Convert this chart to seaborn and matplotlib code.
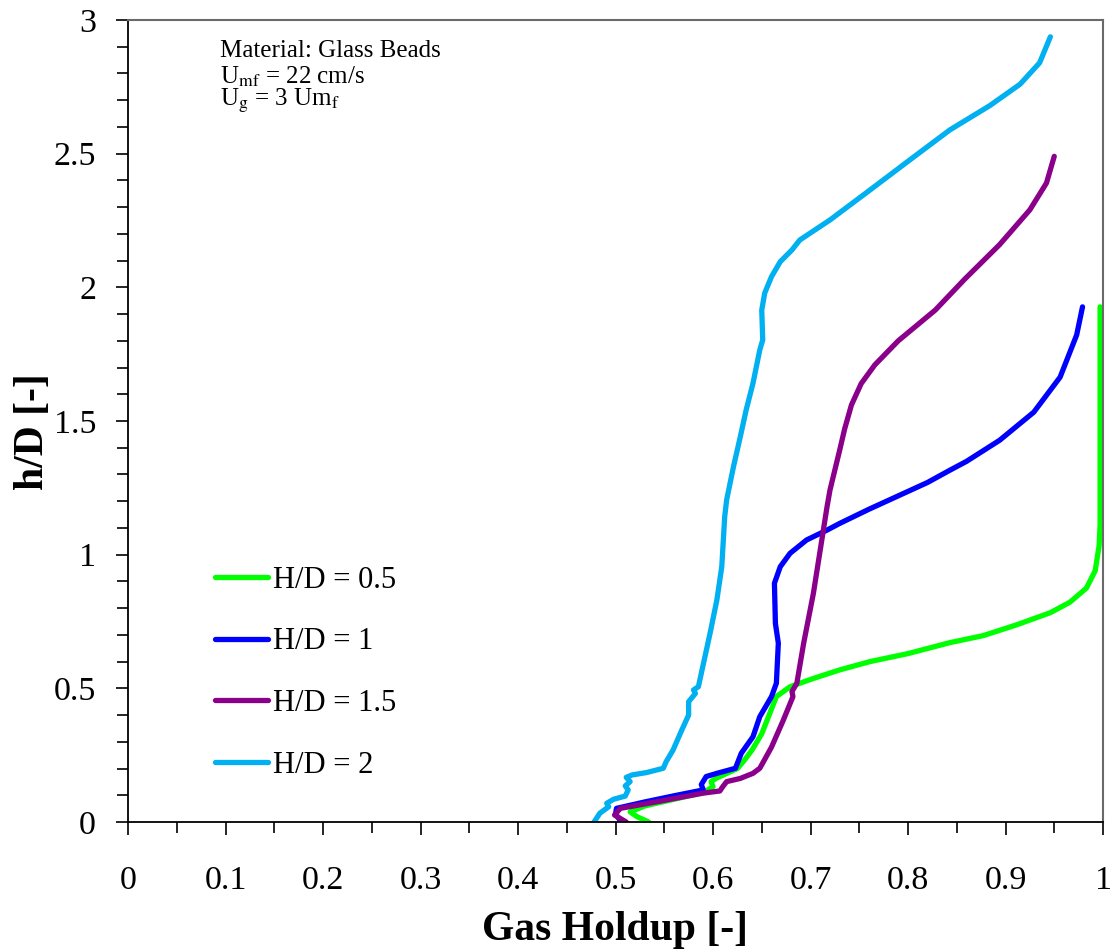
import numpy as np
import pandas as pd
import seaborn as sns
import matplotlib.pyplot as plt
from matplotlib.ticker import MultipleLocator

# gas holdup (x) and h/D (y), one pair per curve
hd05_x = [0.534, 0.522, 0.515, 0.530, 0.560, 0.590, 0.600, 0.598, 0.604, 0.625, 0.632,
          0.640, 0.650, 0.665, 0.679, 0.703, 0.730, 0.761, 0.800, 0.843, 0.877, 0.911,
          0.946, 0.966, 0.983, 0.992, 0.996, 0.997, 0.997, 0.997]
hd05_y = [0.0, 0.020, 0.038, 0.060, 0.085, 0.110, 0.132, 0.151, 0.165, 0.200, 0.230,
          0.269, 0.330, 0.469, 0.506, 0.537, 0.569, 0.600, 0.630, 0.671, 0.697, 0.737,
          0.783, 0.822, 0.875, 0.940, 1.033, 1.112, 1.322, 1.927]

hd1_x = [0.506, 0.500, 0.501, 0.530, 0.560, 0.590, 0.588, 0.593, 0.604, 0.623, 0.629,
         0.641, 0.648, 0.660, 0.665, 0.667, 0.664, 0.663, 0.669, 0.679, 0.696, 0.717,
         0.730, 0.760, 0.790, 0.820, 0.843, 0.860, 0.894, 0.929, 0.956, 0.973, 0.979]
hd1_y = [0.0, 0.030, 0.051, 0.075, 0.098, 0.120, 0.140, 0.170, 0.182, 0.201, 0.257,
         0.319, 0.394, 0.469, 0.519, 0.669, 0.743, 0.893, 0.955, 1.005, 1.055, 1.092,
         1.117, 1.170, 1.220, 1.270, 1.316, 1.349, 1.428, 1.533, 1.664, 1.822, 1.927]

hd15_x = [0.511, 0.499, 0.505, 0.546, 0.590, 0.607, 0.610, 0.614, 0.628, 0.641, 0.648,
          0.660, 0.672, 0.682, 0.681, 0.686, 0.693, 0.703, 0.710, 0.717, 0.720, 0.730,
          0.735, 0.742, 0.752, 0.766, 0.790, 0.828, 0.858, 0.894, 0.925, 0.942, 0.950]
hd15_y = [0.0, 0.026, 0.051, 0.078, 0.108, 0.116, 0.132, 0.151, 0.163, 0.182, 0.201,
          0.280, 0.380, 0.469, 0.488, 0.519, 0.669, 0.856, 1.018, 1.180, 1.242, 1.392,
          1.470, 1.560, 1.640, 1.710, 1.800, 1.915, 2.030, 2.160, 2.290, 2.390, 2.490]

hd2_x = [0.478, 0.484, 0.493, 0.491, 0.498, 0.510, 0.513, 0.510, 0.515, 0.511, 0.517,
         0.532, 0.549, 0.552, 0.559, 0.568, 0.575, 0.575, 0.582, 0.580, 0.585, 0.597,
         0.604, 0.609, 0.612, 0.614, 0.621, 0.628, 0.634, 0.641, 0.648, 0.651, 0.650,
         0.653, 0.660, 0.669, 0.681, 0.689, 0.720, 0.761, 0.802, 0.843, 0.884, 0.915,
         0.935, 0.946]
hd2_y = [0.0, 0.033, 0.057, 0.070, 0.085, 0.097, 0.120, 0.135, 0.151, 0.167, 0.176,
         0.185, 0.201, 0.226, 0.269, 0.344, 0.400, 0.450, 0.481, 0.494, 0.506, 0.706,
         0.831, 0.955, 1.142, 1.205, 1.329, 1.441, 1.541, 1.641, 1.766, 1.803, 1.915,
         1.978, 2.040, 2.096, 2.140, 2.177, 2.252, 2.364, 2.477, 2.589, 2.680, 2.760,
         2.840, 2.937]

labels = ['H/D = 0.5', 'H/D = 1', 'H/D = 1.5', 'H/D = 2']
colors = ['#00ff00', '#0000ff', '#8b008b', '#00b0f0']

x_ticks = [0, 0.1, 0.2, 0.3, 0.4, 0.5, 0.6, 0.7, 0.8, 0.9, 1]
x_ticklabels = ['0', '0.1', '0.2', '0.3', '0.4', '0.5', '0.6', '0.7', '0.8', '0.9', '1']
y_ticks = [0, 0.5, 1, 1.5, 2, 2.5, 3]
y_ticklabels = ['0', '0.5', '1', '1.5', '2', '2.5', '3']

frames = []
for lab, xs, ys in zip(labels, [hd05_x, hd1_x, hd15_x, hd2_x], [hd05_y, hd1_y, hd15_y, hd2_y]):
    frames.append(pd.DataFrame({'holdup': xs, 'hd': ys, 'case': lab}))
df = pd.concat(frames, ignore_index=True)

sns.set_style('ticks')
plt.rcParams['font.family'] = ['Liberation Serif', 'DejaVu Serif']
plt.rcParams['mathtext.fontset'] = 'stix'
plt.rcParams['text.color'] = 'black'
plt.rcParams['axes.labelcolor'] = 'black'
plt.rcParams['xtick.color'] = 'black'
plt.rcParams['ytick.color'] = 'black'

fig, ax = plt.subplots(figsize=(11.12, 9.51), dpi=100)
fig.subplots_adjust(left=128/1112, right=1103/1112, top=1-20/951, bottom=1-822/951)

sns.lineplot(data=df, x='holdup', y='hd', hue='case', hue_order=labels,
             palette=colors, sort=False, estimator=None, lw=3.8, ax=ax)

ax.set_xlim(0, 1)
ax.set_ylim(0, 3)
ax.set_xticks(x_ticks)
ax.set_xticklabels(x_ticklabels)
ax.set_yticks(y_ticks)
ax.set_yticklabels(y_ticklabels)
ax.xaxis.set_minor_locator(MultipleLocator(0.05))
ax.yaxis.set_minor_locator(MultipleLocator(0.1))
ax.tick_params(which='both', direction='out', color='black', width=1.2, labelsize=24.5)
ax.tick_params(which='major', length=9)
ax.tick_params(which='minor', length=8)
ax.tick_params(axis='x', which='major', pad=22)
ax.tick_params(axis='y', which='major', pad=14)

for s in ['left', 'bottom']:
    ax.spines[s].set_color('black')
    ax.spines[s].set_linewidth(1.3)
for s in ['top', 'right']:
    ax.spines[s].set_visible(True)
    ax.spines[s].set_color('#6a6a6a')
    ax.spines[s].set_linewidth(1.5)

ax.set_xlabel('Gas Holdup [-]', fontsize=30, fontweight='bold', labelpad=11)
ax.set_ylabel('h/D [-]', fontsize=30, fontweight='bold')
ax.yaxis.set_label_coords(-0.078, 0.487)

handles, labs = ax.get_legend_handles_labels()
for h in handles:
    h.set_linewidth(3.8)
ax.legend(handles, labs, loc='center left', bbox_to_anchor=(0.089, 0.186),
          frameon=False, fontsize=22, handlelength=1.75, handletextpad=0.15,
          labelspacing=1.07, borderpad=0, borderaxespad=0)

ax.text(0.094, 0.954, 'Material: Glass Beads', transform=ax.transAxes, fontsize=18, va='baseline')
ax.text(0.094, 0.921, r'U$_{\mathrm{mf}}$ = 22 cm/s', transform=ax.transAxes, fontsize=18, va='baseline')
ax.text(0.094, 0.893, r'U$_{\mathrm{g}}$ = 3 Um$_{\mathrm{f}}$', transform=ax.transAxes, fontsize=18, va='baseline')

plt.savefig('out.png', dpi=100)
